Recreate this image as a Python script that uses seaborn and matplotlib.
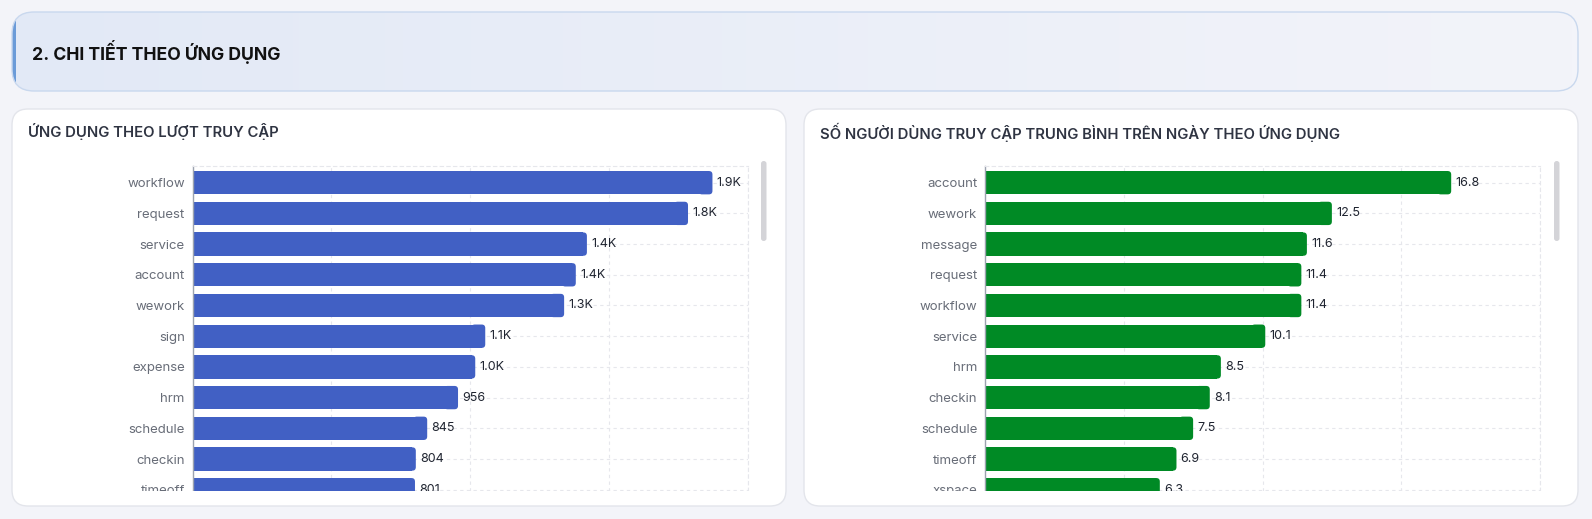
import matplotlib

matplotlib.use("Agg")
import matplotlib.pyplot as plt
import numpy as np
import pandas as pd
import seaborn as sns
from matplotlib.patches import FancyBboxPatch, Rectangle
from matplotlib.transforms import IdentityTransform

W, H = 1592, 519
FONT = ["Inter", "DejaVu Sans"]
PAGE_BG = "#f3f4f9"

SECTION_TITLE = "2. CHI TIẾT THEO ỨNG DỤNG"
VISITS_TITLE = "ỨNG DỤNG THEO LƯỢT TRUY CẬP"
USERS_TITLE = "SỐ NGƯỜI DÙNG TRUY CẬP TRUNG BÌNH TRÊN NGÀY THEO ỨNG DỤNG"

VISIT_APPS = ["workflow", "request", "service", "account", "wework", "sign",
              "expense", "hrm", "schedule", "checkin", "timeoff"]
VISIT_COUNTS = [1872, 1784, 1420, 1380, 1338, 1054, 1018, 956, 845, 804, 801]
VISIT_XMAX = 2000

USER_APPS = ["account", "wework", "message", "request", "workflow", "service",
             "hrm", "checkin", "schedule", "timeoff", "xspace"]
USER_AVGS = [16.8, 12.5, 11.6, 11.4, 11.4, 10.1, 8.5, 8.1, 7.5, 6.9, 6.3]
USER_XMAX = 20

# chart viewport (pixels) inside each card; the list is scrolled, so it is cut
PLOT_TOP, PLOT_BOTTOM = 166.5, 491
ROW0, ROW_STEP = 182.7, 30.7


def fig_rect(x0, y0, x1, y1):
    return [x0 / W, 1 - y1 / H, (x1 - x0) / W, (y1 - y0) / H]


def fmt_k(v):
    return f"{v / 1000:.1f}K" if v >= 1000 else f"{v:.0f}"


def draw_bars(fig, x0, x1, apps, values, color, xmax, labels):
    ax = fig.add_axes(fig_rect(x0, PLOT_TOP, x1, PLOT_BOTTOM))
    df = pd.DataFrame({"app": apps, "value": values})
    sns.barplot(data=df, x="value", y="app", orient="h", color=color,
                saturation=1, width=0.76, linewidth=0, ax=ax, zorder=2)
    ax.set_xlim(0, xmax)
    ymin = -(ROW0 - PLOT_TOP) / ROW_STEP
    ymax = (PLOT_BOTTOM - ROW0) / ROW_STEP
    ax.set_ylim(ymax, ymin)
    ax.bar_label(ax.containers[0], labels=labels, padding=3, fontsize=9,
                 color="#1f2430")

    # round the right end of each bar, done in pixel space
    r = 3.5
    xdpp = xmax / (x1 - x0)
    to_px = ax.transData.transform
    for p in ax.patches:
        bx, by, bw, bh = p.get_x(), p.get_y(), p.get_width(), p.get_height()
        (px0, py0), (px1, py1) = to_px((bx, by)), to_px((bx + bw, by + bh))
        right = max(px0, px1)
        bottom, top = min(py0, py1), max(py0, py1)
        p.set_width(bw - r * xdpp)
        ax.add_patch(FancyBboxPatch((right - 4 * r, bottom), 4 * r, top - bottom,
                                    boxstyle=f"round,pad=0,rounding_size={r}",
                                    transform=IdentityTransform(),
                                    fc=color, ec="none", lw=0, zorder=2))

    ax.set_xticks(np.linspace(0, xmax, 5))
    ax.set_xticklabels([])
    ax.set_xlabel("")
    ax.set_ylabel("")
    ax.tick_params(axis="x", length=0)
    ax.tick_params(axis="y", length=3.8, width=0.8, color="#9ca3af",
                   labelsize=9.5, labelcolor="#686d78", pad=1.8)
    ax.grid(True, linestyle=(0, (3, 3)), color="#e6e7ec", linewidth=0.8)
    ax.set_axisbelow(True)
    ax.set_facecolor("white")
    for side in ("top", "right"):
        ax.spines[side].set_linestyle((0, (3, 3)))
        ax.spines[side].set_color("#e6e7ec")
        ax.spines[side].set_linewidth(0.8)
    ax.spines["bottom"].set_visible(False)
    ax.spines["left"].set_color("#9ca3af")
    ax.spines["left"].set_linewidth(1)
    return ax


def main():
    sns.set_theme(style="white")
    plt.rcParams["font.family"] = FONT

    fig = plt.figure(figsize=(W / 100, H / 100), dpi=100, facecolor=PAGE_BG)

    bg = fig.add_axes([0, 0, 1, 1])
    bg.set_xlim(0, W)
    bg.set_ylim(H, 0)
    bg.axis("off")

    # section header with gradient
    header = FancyBboxPatch((12, 12), 1566, 79, boxstyle="round,pad=0,rounding_size=22",
                            fc="none", ec="#c9d8ee", lw=1, zorder=3)
    bg.add_patch(header)
    grad = np.linspace(0, 1, 256)[None, :, None]
    c0 = np.array([226, 233, 246]) / 255
    c1 = np.array([243, 244, 250]) / 255
    img = c0 + (c1 - c0) * grad
    im = bg.imshow(img, extent=(12, 1578, 91, 12), aspect="auto", zorder=1)
    im.set_clip_path(header)
    stripe = Rectangle((12, 12), 4, 79, fc="#6b9bd8", ec="none", zorder=2)
    bg.add_patch(stripe)
    stripe.set_clip_path(header)
    bg.set_xlim(0, W)
    bg.set_ylim(H, 0)
    bg.text(32, 52, SECTION_TITLE, fontsize=12.7, fontweight="bold",
            color="#111111", va="center", ha="left")

    # cards
    for cx, cw, title in ((12, 774, VISITS_TITLE), (804, 774, USERS_TITLE)):
        bg.add_patch(FancyBboxPatch((cx, 109), cw, 397,
                                    boxstyle="round,pad=0,rounding_size=16",
                                    fc="white", ec="#e3e5eb", lw=1))
        bg.text(cx + 16, 132, title, fontsize=10.7, fontweight="semibold",
                color="#2f3442", va="center", ha="left")

    draw_bars(fig, 192.5, 748, VISIT_APPS, VISIT_COUNTS, "#4160c4", VISIT_XMAX,
              [fmt_k(v) for v in VISIT_COUNTS])
    draw_bars(fig, 985, 1540, USER_APPS, USER_AVGS, "#008a25", USER_XMAX,
              [f"{v:.1f}" for v in USER_AVGS])

    fg = fig.add_axes([0, 0, 1, 1], zorder=10)
    fg.set_xlim(0, W)
    fg.set_ylim(H, 0)
    fg.axis("off")
    fg.patch.set_alpha(0)
    # viewport clipping of the scrolled list
    fg.add_patch(Rectangle((40, PLOT_BOTTOM), 730, 13, fc="white", ec="none"))
    fg.add_patch(Rectangle((830, PLOT_BOTTOM), 730, 13, fc="white", ec="none"))
    # scrollbars
    for sx in (761, 1554):
        fg.add_patch(FancyBboxPatch((sx, 161), 5.5, 80, boxstyle="round,pad=0,rounding_size=2.7",
                                    fc="#d4d4d8", ec="none"))

    fig.savefig("out.png", dpi=100, facecolor=PAGE_BG)
    plt.close(fig)


if __name__ == "__main__":
    main()
